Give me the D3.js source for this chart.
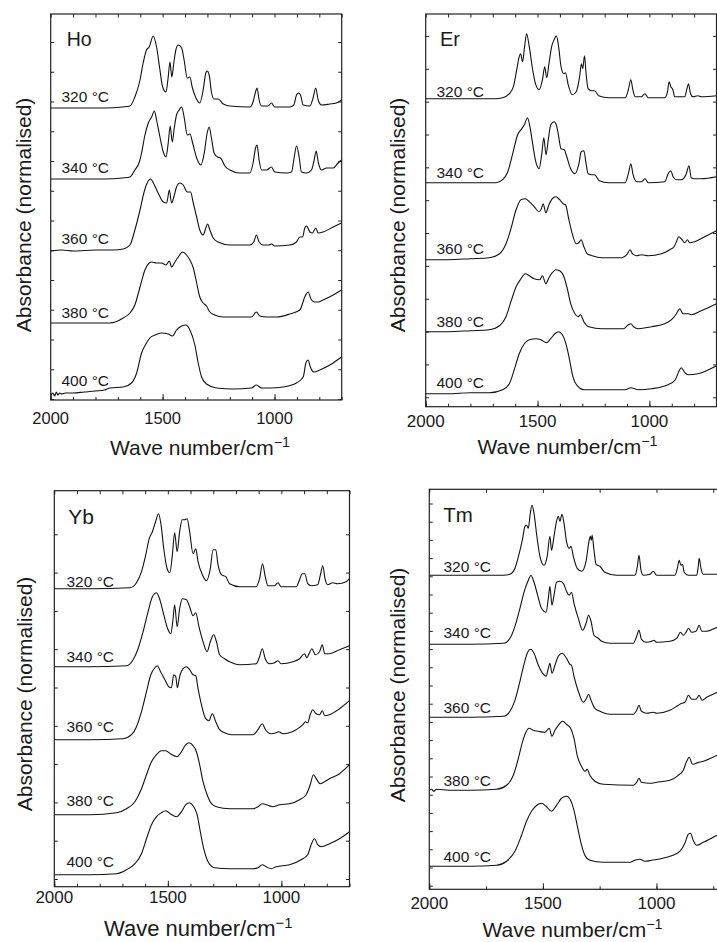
<!DOCTYPE html>
<html>
<head>
<meta charset="utf-8">
<script src="https://cdn.jsdelivr.net/npm/d3@7"></script>
<style>
  body { margin: 0; background: #fff; }
  svg text { font-family: "Liberation Sans", Arial, Helvetica, sans-serif; fill: #1a1a1a; }
</style>
</head>
<body>
<svg id="chart" width="717" height="942"></svg>
<script>
// ---------- data: [wave number (cm-1), normalised absorbance incl. offset] ----------
const ho320 = [[2000,2.92],[1900,2.92],[1760,2.92],[1680,2.93],[1646,2.94],[1624,3.03],[1601,3.20],[1587,3.37],[1572,3.50],[1560,3.53],[1542,3.64],[1527,3.53],[1512,3.30],[1500,3.13],[1485,3.08],[1475,3.23],[1467,3.38],[1459,3.23],[1450,3.37],[1441,3.50],[1430,3.55],[1415,3.52],[1404,3.40],[1390,3.22],[1378,3.23],[1368,3.13],[1351,3.02],[1334,2.97],[1319,3.10],[1307,3.27],[1301,3.29],[1292,3.25],[1282,3.08],[1271,3.01],[1252,3.01],[1229,2.96],[1200,2.94],[1110,2.93],[1096,2.98],[1085,3.08],[1078,3.12],[1069,3.00],[1058,2.94],[1029,2.94],[1014,2.97],[999,2.93],[932,2.93],[914,2.95],[902,3.05],[893,3.07],[884,3.05],[872,2.95],[842,2.94],[828,3.02],[816,3.12],[805,3.00],[790,2.95],[753,2.96],[724,2.97],[701,3.00]];
const ho340 = [[2000,2.21],[1900,2.21],[1760,2.21],[1680,2.22],[1646,2.23],[1624,2.30],[1604,2.38],[1594,2.47],[1579,2.65],[1564,2.77],[1549,2.83],[1537,2.89],[1527,2.80],[1512,2.63],[1497,2.48],[1485,2.43],[1475,2.57],[1466,2.74],[1457,2.58],[1448,2.72],[1438,2.85],[1426,2.90],[1415,2.93],[1404,2.83],[1390,2.65],[1378,2.66],[1366,2.57],[1348,2.42],[1329,2.35],[1314,2.47],[1301,2.67],[1292,2.73],[1282,2.62],[1270,2.47],[1255,2.43],[1241,2.42],[1222,2.34],[1200,2.30],[1155,2.27],[1110,2.27],[1096,2.37],[1085,2.52],[1078,2.55],[1069,2.40],[1058,2.30],[1036,2.30],[1014,2.33],[999,2.28],[947,2.27],[924,2.28],[914,2.40],[902,2.54],[890,2.43],[880,2.28],[857,2.27],[835,2.30],[823,2.40],[814,2.49],[804,2.37],[790,2.30],[768,2.32],[738,2.32],[716,2.37],[701,2.40]];
const ho360 = [[2000,1.49],[1950,1.50],[1900,1.49],[1800,1.50],[1720,1.50],[1676,1.51],[1646,1.55],[1624,1.70],[1601,1.90],[1584,2.07],[1569,2.17],[1554,2.21],[1539,2.16],[1520,2.07],[1497,1.98],[1482,1.97],[1470,2.10],[1460,1.97],[1450,2.03],[1438,2.13],[1423,2.17],[1408,2.15],[1390,2.08],[1375,2.08],[1363,1.97],[1348,1.83],[1334,1.70],[1319,1.65],[1307,1.72],[1299,1.76],[1289,1.70],[1274,1.62],[1252,1.58],[1200,1.55],[1110,1.55],[1093,1.58],[1081,1.65],[1069,1.58],[1051,1.55],[1025,1.55],[1014,1.56],[999,1.54],[932,1.55],[902,1.58],[887,1.63],[875,1.63],[865,1.72],[857,1.74],[842,1.68],[831,1.67],[816,1.72],[805,1.67],[783,1.68],[738,1.73],[701,1.77]];
const ho380 = [[2000,0.77],[1900,0.77],[1800,0.77],[1735,0.77],[1676,0.82],[1646,0.87],[1624,0.95],[1601,1.13],[1579,1.30],[1560,1.37],[1549,1.38],[1527,1.37],[1505,1.37],[1485,1.35],[1470,1.39],[1460,1.33],[1445,1.38],[1430,1.43],[1411,1.48],[1393,1.45],[1378,1.40],[1363,1.32],[1348,1.17],[1334,1.03],[1319,0.97],[1304,0.94],[1289,0.88],[1267,0.85],[1229,0.83],[1155,0.83],[1103,0.83],[1081,0.88],[1066,0.84],[1036,0.83],[991,0.83],[932,0.86],[887,0.90],[865,1.03],[850,1.08],[835,1.00],[820,0.98],[805,0.98],[783,1.00],[738,1.05],[701,1.10]];
const ho400 = [[2000,0.05],[1990,0.07],[1982,0.04],[1975,0.08],[1968,0.05],[1960,0.07],[1950,0.06],[1935,0.07],[1900,0.07],[1850,0.08],[1800,0.09],[1760,0.10],[1735,0.12],[1676,0.13],[1639,0.17],[1616,0.27],[1594,0.47],[1572,0.57],[1557,0.62],[1534,0.65],[1505,0.67],[1475,0.66],[1456,0.64],[1438,0.70],[1415,0.74],[1396,0.75],[1378,0.70],[1356,0.55],[1341,0.37],[1326,0.23],[1304,0.16],[1259,0.12],[1185,0.11],[1103,0.12],[1081,0.15],[1058,0.12],[1021,0.12],[962,0.13],[902,0.17],[872,0.23],[860,0.37],[850,0.40],[840,0.33],[825,0.28],[798,0.30],[753,0.35],[701,0.43]];

const er320 = [[2000,3.08],[1900,3.08],[1760,3.08],[1690,3.08],[1656,3.09],[1626,3.13],[1608,3.20],[1593,3.37],[1582,3.50],[1576,3.53],[1567,3.45],[1558,3.60],[1549,3.73],[1537,3.60],[1522,3.37],[1508,3.22],[1493,3.17],[1478,3.27],[1468,3.40],[1459,3.29],[1449,3.43],[1437,3.60],[1426,3.67],[1416,3.71],[1407,3.62],[1395,3.40],[1383,3.33],[1375,3.34],[1363,3.22],[1345,3.12],[1327,3.15],[1312,3.30],[1304,3.43],[1298,3.38],[1290,3.51],[1283,3.33],[1274,3.18],[1259,3.16],[1245,3.16],[1227,3.11],[1182,3.09],[1108,3.09],[1094,3.17],[1083,3.27],[1074,3.17],[1064,3.10],[1035,3.10],[1020,3.13],[1005,3.09],[931,3.09],[919,3.15],[912,3.25],[904,3.20],[895,3.17],[887,3.10],[842,3.10],[832,3.18],[825,3.23],[816,3.13],[805,3.10],[783,3.11],[768,3.10],[700,3.11]];
const er340 = [[2000,2.24],[1900,2.24],[1760,2.24],[1685,2.24],[1656,2.27],[1633,2.35],[1611,2.53],[1589,2.72],[1574,2.77],[1559,2.82],[1545,2.89],[1534,2.80],[1522,2.63],[1508,2.45],[1493,2.38],[1481,2.53],[1472,2.69],[1462,2.52],[1452,2.67],[1441,2.82],[1426,2.85],[1416,2.82],[1407,2.72],[1395,2.58],[1380,2.57],[1372,2.52],[1352,2.38],[1333,2.33],[1315,2.43],[1305,2.55],[1293,2.56],[1283,2.43],[1274,2.33],[1256,2.32],[1245,2.32],[1224,2.26],[1182,2.24],[1108,2.24],[1094,2.33],[1083,2.43],[1073,2.32],[1057,2.25],[1035,2.25],[1020,2.28],[1005,2.24],[931,2.25],[916,2.33],[904,2.36],[894,2.30],[879,2.27],[857,2.27],[835,2.33],[823,2.41],[813,2.29],[798,2.28],[768,2.28],[700,2.30]];
const er360 = [[2000,1.47],[1900,1.47],[1800,1.48],[1715,1.49],[1670,1.53],[1641,1.63],[1619,1.78],[1596,1.97],[1574,2.07],[1555,2.08],[1537,2.05],[1515,2.00],[1493,1.95],[1483,1.98],[1475,2.03],[1463,1.94],[1449,2.02],[1434,2.08],[1419,2.10],[1401,2.07],[1386,2.03],[1375,2.02],[1360,1.87],[1345,1.73],[1327,1.63],[1315,1.64],[1305,1.67],[1293,1.60],[1278,1.53],[1256,1.51],[1212,1.49],[1123,1.49],[1101,1.52],[1086,1.57],[1076,1.53],[1057,1.51],[1035,1.52],[1005,1.51],[946,1.53],[909,1.57],[890,1.60],[879,1.65],[869,1.70],[854,1.67],[842,1.64],[830,1.67],[820,1.64],[798,1.65],[753,1.70],[700,1.76]];
const er380 = [[2000,0.75],[1900,0.75],[1800,0.76],[1715,0.77],[1670,0.81],[1641,0.90],[1619,1.05],[1596,1.20],[1574,1.28],[1555,1.33],[1537,1.31],[1515,1.28],[1490,1.27],[1478,1.31],[1463,1.23],[1449,1.29],[1434,1.34],[1419,1.37],[1401,1.36],[1382,1.30],[1367,1.18],[1352,1.03],[1333,0.93],[1318,0.90],[1308,0.92],[1293,0.85],[1271,0.80],[1212,0.78],[1116,0.78],[1094,0.82],[1083,0.83],[1071,0.80],[1049,0.78],[990,0.80],[931,0.83],[901,0.87],[879,0.93],[864,0.98],[850,0.93],[835,0.93],[824,0.93],[813,0.92],[768,0.96],[700,1.03]];
const er400 = [[2000,0.13],[1900,0.13],[1800,0.14],[1715,0.14],[1656,0.17],[1626,0.23],[1604,0.37],[1582,0.53],[1559,0.63],[1537,0.67],[1508,0.68],[1485,0.67],[1460,0.64],[1441,0.68],[1422,0.73],[1407,0.75],[1389,0.72],[1372,0.62],[1357,0.47],[1342,0.30],[1323,0.21],[1293,0.17],[1212,0.17],[1108,0.17],[1083,0.19],[1049,0.17],[990,0.18],[916,0.22],[884,0.27],[869,0.35],[857,0.39],[842,0.34],[827,0.32],[783,0.33],[700,0.41]];

const yb320 = [[2000,2.98],[1900,2.98],[1843,2.98],[1667,2.99],[1638,3.04],[1616,3.15],[1597,3.32],[1582,3.48],[1568,3.55],[1554,3.65],[1541,3.73],[1530,3.62],[1518,3.38],[1503,3.18],[1491,3.14],[1480,3.32],[1470,3.54],[1459,3.35],[1448,3.55],[1437,3.67],[1426,3.67],[1415,3.68],[1404,3.55],[1389,3.33],[1377,3.38],[1367,3.25],[1348,3.12],[1330,3.06],[1313,3.18],[1301,3.37],[1289,3.37],[1279,3.22],[1264,3.12],[1245,3.10],[1228,3.03],[1184,3.00],[1111,3.00],[1096,3.08],[1083,3.23],[1071,3.10],[1059,3.01],[1030,3.01],[1015,3.04],[1001,3.00],[935,3.00],[920,3.07],[908,3.13],[897,3.13],[884,3.03],[869,3.01],[840,3.02],[828,3.12],[818,3.21],[807,3.07],[796,3.02],[774,3.04],[752,3.03],[715,3.05],[700,3.08]];
const yb340 = [[2000,2.20],[1900,2.20],[1843,2.20],[1682,2.21],[1653,2.27],[1631,2.38],[1609,2.55],[1587,2.75],[1568,2.90],[1550,2.94],[1535,2.87],[1518,2.72],[1499,2.57],[1487,2.53],[1477,2.68],[1470,2.82],[1459,2.60],[1448,2.78],[1436,2.88],[1418,2.87],[1404,2.80],[1389,2.71],[1377,2.74],[1363,2.60],[1345,2.45],[1327,2.35],[1313,2.45],[1298,2.52],[1286,2.45],[1272,2.32],[1250,2.28],[1228,2.25],[1184,2.22],[1111,2.23],[1096,2.30],[1084,2.38],[1071,2.28],[1052,2.23],[1030,2.24],[1015,2.26],[1001,2.23],[949,2.25],[920,2.28],[898,2.33],[888,2.29],[876,2.34],[866,2.38],[850,2.32],[832,2.35],[820,2.42],[809,2.33],[788,2.33],[744,2.37],[700,2.41]];
const yb360 = [[2000,1.47],[1900,1.47],[1843,1.47],[1697,1.48],[1660,1.52],[1638,1.60],[1616,1.75],[1594,1.95],[1575,2.12],[1557,2.19],[1547,2.21],[1532,2.15],[1513,2.07],[1496,2.00],[1484,1.99],[1474,2.12],[1465,2.10],[1458,1.99],[1448,2.10],[1433,2.18],[1418,2.20],[1404,2.17],[1389,2.12],[1377,2.11],[1367,1.98],[1352,1.82],[1333,1.68],[1319,1.66],[1304,1.73],[1289,1.65],[1272,1.57],[1250,1.54],[1220,1.52],[1125,1.52],[1103,1.57],[1084,1.63],[1070,1.57],[1045,1.53],[1023,1.54],[1011,1.55],[993,1.53],[935,1.57],[905,1.62],[894,1.65],[884,1.64],[873,1.72],[862,1.77],[847,1.73],[832,1.72],[820,1.76],[809,1.71],[788,1.72],[744,1.78],[700,1.86]];
const yb380 = [[2000,0.72],[1900,0.72],[1843,0.72],[1726,0.74],[1682,0.78],[1645,0.85],[1616,0.98],[1594,1.12],[1572,1.25],[1550,1.32],[1528,1.36],[1509,1.36],[1489,1.33],[1459,1.30],[1440,1.35],[1421,1.42],[1406,1.44],[1389,1.41],[1374,1.35],[1360,1.22],[1345,1.05],[1327,0.92],[1308,0.83],[1286,0.80],[1228,0.78],[1125,0.78],[1103,0.80],[1084,0.83],[1067,0.82],[1037,0.80],[1008,0.82],[964,0.83],[920,0.87],[891,0.92],[873,1.02],[859,1.12],[844,1.07],[829,1.03],[810,1.05],[788,1.08],[744,1.13],[700,1.22]];
const yb400 = [[2000,0.12],[1900,0.12],[1843,0.12],[1726,0.13],[1682,0.17],[1645,0.23],[1616,0.33],[1594,0.48],[1572,0.62],[1550,0.70],[1528,0.74],[1509,0.76],[1489,0.73],[1462,0.70],[1440,0.75],[1421,0.82],[1406,0.84],[1389,0.81],[1371,0.72],[1357,0.55],[1342,0.38],[1323,0.25],[1294,0.19],[1228,0.18],[1125,0.18],[1103,0.19],[1084,0.22],[1067,0.20],[1045,0.18],[1023,0.20],[964,0.22],[913,0.27],[884,0.32],[869,0.42],[854,0.48],[840,0.42],[825,0.40],[788,0.43],[744,0.48],[700,0.55]];

const tm320 = [[2000,3.14],[1900,3.14],[1821,3.14],[1674,3.14],[1645,3.15],[1623,3.21],[1604,3.36],[1589,3.51],[1579,3.63],[1572,3.64],[1564,3.61],[1557,3.73],[1548,3.84],[1539,3.76],[1527,3.54],[1513,3.33],[1495,3.24],[1481,3.33],[1469,3.53],[1462,3.39],[1451,3.53],[1440,3.68],[1432,3.73],[1425,3.68],[1416,3.75],[1407,3.66],[1396,3.48],[1384,3.41],[1376,3.43],[1366,3.33],[1349,3.21],[1329,3.18],[1310,3.28],[1297,3.48],[1291,3.53],[1287,3.49],[1283,3.54],[1275,3.39],[1266,3.25],[1249,3.23],[1227,3.17],[1176,3.14],[1095,3.14],[1084,3.23],[1077,3.34],[1068,3.19],[1058,3.14],[1029,3.15],[1014,3.18],[999,3.14],[919,3.14],[908,3.21],[900,3.29],[892,3.24],[885,3.25],[878,3.17],[860,3.14],[823,3.14],[816,3.23],[812,3.31],[804,3.21],[794,3.15],[765,3.15],[732,3.15],[700,3.15]];
const tm340 = [[2000,2.45],[1900,2.45],[1821,2.45],[1674,2.46],[1645,2.51],[1623,2.63],[1601,2.81],[1582,2.98],[1564,3.09],[1553,3.14],[1539,3.07],[1523,2.94],[1506,2.81],[1486,2.77],[1476,2.91],[1469,3.03],[1460,2.84],[1451,2.94],[1440,3.07],[1425,3.08],[1410,3.06],[1396,2.98],[1384,2.94],[1374,2.97],[1363,2.86],[1344,2.71],[1325,2.59],[1310,2.66],[1299,2.74],[1288,2.68],[1275,2.54],[1256,2.51],[1241,2.48],[1205,2.46],[1102,2.46],[1087,2.53],[1077,2.59],[1066,2.50],[1046,2.47],[1021,2.48],[1011,2.49],[999,2.47],[941,2.48],[911,2.51],[894,2.57],[882,2.54],[870,2.57],[859,2.61],[845,2.57],[826,2.58],[812,2.64],[800,2.58],[779,2.58],[732,2.62],[700,2.64]];
const tm360 = [[2000,1.72],[1900,1.72],[1821,1.72],[1674,1.73],[1645,1.78],[1623,1.89],[1601,2.08],[1582,2.26],[1567,2.37],[1554,2.40],[1539,2.36],[1520,2.24],[1501,2.16],[1486,2.13],[1476,2.21],[1469,2.26],[1460,2.16],[1447,2.24],[1432,2.33],[1415,2.36],[1396,2.31],[1381,2.25],[1374,2.24],[1363,2.13],[1344,1.98],[1322,1.87],[1308,1.91],[1299,1.95],[1288,1.89],[1271,1.81],[1249,1.78],[1205,1.75],[1102,1.75],[1087,1.79],[1077,1.84],[1066,1.78],[1043,1.76],[1014,1.77],[999,1.76],[941,1.79],[904,1.84],[889,1.86],[875,1.87],[859,1.94],[845,1.90],[826,1.90],[812,1.94],[800,1.89],[779,1.92],[732,1.97],[700,2.00]];
const tm380 = [[2000,0.99],[1990,1.00],[1980,0.98],[1970,1.00],[1900,0.99],[1821,0.99],[1704,1.00],[1660,1.04],[1630,1.14],[1608,1.31],[1589,1.48],[1575,1.57],[1560,1.61],[1542,1.59],[1520,1.58],[1491,1.57],[1472,1.61],[1460,1.53],[1447,1.59],[1432,1.64],[1413,1.68],[1396,1.65],[1378,1.61],[1363,1.51],[1349,1.34],[1330,1.23],[1315,1.18],[1305,1.20],[1293,1.14],[1271,1.08],[1234,1.05],[1102,1.04],[1087,1.07],[1077,1.11],[1066,1.07],[1029,1.06],[999,1.07],[941,1.09],[904,1.14],[882,1.19],[867,1.28],[856,1.32],[841,1.25],[826,1.26],[812,1.27],[794,1.28],[732,1.34],[700,1.37]];
const tm400 = [[2000,0.23],[1900,0.23],[1821,0.23],[1704,0.24],[1660,0.28],[1623,0.38],[1594,0.54],[1572,0.68],[1550,0.78],[1527,0.84],[1506,0.86],[1486,0.83],[1462,0.78],[1440,0.84],[1418,0.91],[1396,0.93],[1378,0.89],[1363,0.79],[1349,0.64],[1334,0.48],[1315,0.34],[1293,0.29],[1234,0.27],[1117,0.27],[1095,0.29],[1073,0.30],[1051,0.28],[1021,0.29],[941,0.33],[897,0.38],[875,0.46],[860,0.55],[850,0.56],[838,0.49],[823,0.44],[794,0.47],[732,0.54],[700,0.57]];

const temps = ["320 °C", "340 °C", "360 °C", "380 °C", "400 °C"];
const elements = ["Ho", "Er", "Yb", "Tm"];
const xLabels = [2000, 1500, 1000];
const xTitle = "Wave number/cm";
const yTitle = "Absorbance (normalised)";

// ---------- layout (pixels) ----------
const panels = [
  { name: elements[0], curves: [ho320, ho340, ho360, ho380, ho400],
    left: 50.7, right: 341.7, top: 14, bottom: 400,
    xStep: 100, yTick0: 0.01, yStep: 0.2975, yCount: 13,
    tickBase: 424, tickFont: 16.5, titleX: 200, titleBase: 455, titleFont: 21,
    yTitleX: 31, yTitleY: 215, nameX: 66.7, nameY: 46, nameFont: 19.5,
    tempX: 61.5, tempY: [102.3, 172.7, 244.3, 317.7, 385.7] },
  { name: elements[1], curves: [er320, er340, er360, er380, er400],
    left: 425.7, right: 716.5, top: 14, bottom: 406.7,
    xStep: 100, yTick0: 0.094, yStep: 0.3285, yCount: 12,
    tickBase: 426.5, tickFont: 17, titleX: 567.5, titleBase: 454, titleFont: 21,
    yTitleX: 405, yTitleY: 215, nameX: 440, nameY: 46, nameFont: 20,
    tempX: 436.5, tempY: [96.7, 178.3, 254.3, 326.7, 388.3] },
  { name: elements[2], curves: [yb320, yb340, yb360, yb380, yb400],
    left: 54.3, right: 349.5, top: 490.7, bottom: 886.7,
    xStep: 100, yTick0: 0.077, yStep: 0.383, yCount: 10,
    tickBase: 902.7, tickFont: 17, titleX: 198.3, titleBase: 936, titleFont: 22,
    yTitleX: 31.5, yTitleY: 694, nameX: 68.3, nameY: 524, nameFont: 21,
    tempX: 66.5, tempY: [586.7, 662.3, 732.3, 806, 866.7] },
  { name: elements[3], curves: [tm320, tm340, tm360, tm380, tm400],
    left: 429.3, right: 724.6, top: 489.3, bottom: 889.3,
    xStep: 250, yTick0: 0.036, yStep: 0.182, yCount: 22,
    tickBase: 909, tickFont: 17, titleX: 572.5, titleBase: 936.5, titleFont: 21,
    yTitleX: 405, yTitleY: 685, nameX: 443.3, nameY: 521.7, nameFont: 20.5,
    tempX: 443.5, tempY: [571.7, 638.3, 713.3, 786, 861.7] }
];

const svg = d3.select("#chart");
svg.append("rect").attr("width", 717).attr("height", 942).attr("fill", "#fff");

panels.forEach((p, pi) => drawPanel(p, pi));

function drawPanel(p, pi) {
  const x = d3.scaleLinear().domain([2000, 700]).range([p.left, p.right]);
  const y = d3.scaleLinear().domain([0, (p.bottom - p.top) / 100]).range([p.bottom, p.top]);
  const g = svg.append("g");

  const clipId = "clip" + pi;
  g.append("clipPath").attr("id", clipId).append("rect")
    .attr("x", p.left).attr("y", p.top)
    .attr("width", p.right - p.left).attr("height", p.bottom - p.top);

  // ticks (all inward)
  const minor = d3.range(2000, 699, -p.xStep);
  const yTicks = d3.range(p.yCount).map(i => p.yTick0 + i * p.yStep);
  const tickStyle = sel => {
    sel.select(".domain").remove();
    sel.selectAll(".tick line").attr("stroke", "#222").attr("stroke-width", 1);
    sel.selectAll(".tick text").remove();
  };
  g.append("g").attr("transform", `translate(0,${p.bottom})`)
    .call(d3.axisBottom(x).tickValues(minor).tickSize(-3)).call(tickStyle);
  g.append("g").attr("transform", `translate(0,${p.bottom})`)
    .call(d3.axisBottom(x).tickValues(xLabels).tickSize(-6)).call(tickStyle);
  g.append("g").attr("transform", `translate(0,${p.top})`)
    .call(d3.axisTop(x).tickValues(minor).tickSize(-3.5)).call(tickStyle);
  g.append("g").attr("transform", `translate(${p.left},0)`)
    .call(d3.axisLeft(y).tickValues(yTicks).tickSize(-3.5)).call(tickStyle);
  g.append("g").attr("transform", `translate(${p.right},0)`)
    .call(d3.axisRight(y).tickValues(yTicks).tickSize(-3.5)).call(tickStyle);

  // frame
  g.append("rect").attr("x", p.left).attr("y", p.top)
    .attr("width", p.right - p.left).attr("height", p.bottom - p.top)
    .attr("fill", "none").attr("stroke", "#222").attr("stroke-width", 1.2);

  // spectra
  const line = d3.line().x(d => x(d[0])).y(d => y(d[1])).curve(d3.curveMonotoneX);
  g.append("g").attr("clip-path", `url(#${clipId})`)
    .selectAll("path").data(p.curves).join("path")
    .attr("d", d => line(d.slice().sort((a, b) => b[0] - a[0])))
    .attr("fill", "none").attr("stroke", "#111").attr("stroke-width", 1.1)
    .attr("stroke-linejoin", "round");

  // temperature labels
  g.selectAll("text.temp").data(temps).join("text").attr("class", "temp")
    .attr("x", p.tempX).attr("y", (d, i) => p.tempY[i])
    .attr("font-size", 15.5).text(d => d);

  // element label
  g.append("text").attr("x", p.nameX).attr("y", p.nameY)
    .attr("font-size", p.nameFont).text(p.name);

  // x tick labels
  g.selectAll("text.xl").data(xLabels).join("text").attr("class", "xl")
    .attr("x", d => x(d)).attr("y", p.tickBase)
    .attr("text-anchor", "middle").attr("font-size", p.tickFont).text(d => d);

  // x title
  const t = g.append("text").attr("x", p.titleX).attr("y", p.titleBase)
    .attr("text-anchor", "middle").attr("font-size", p.titleFont);
  t.append("tspan").text(xTitle);
  t.append("tspan").attr("dy", -8).attr("font-size", p.titleFont * 0.68).text("\u22121");

  // y title
  g.append("text")
    .attr("transform", `translate(${p.yTitleX},${p.yTitleY}) rotate(-90)`)
    .attr("text-anchor", "middle").attr("font-size", 21).text(yTitle);
}
</script>
</body>
</html>
